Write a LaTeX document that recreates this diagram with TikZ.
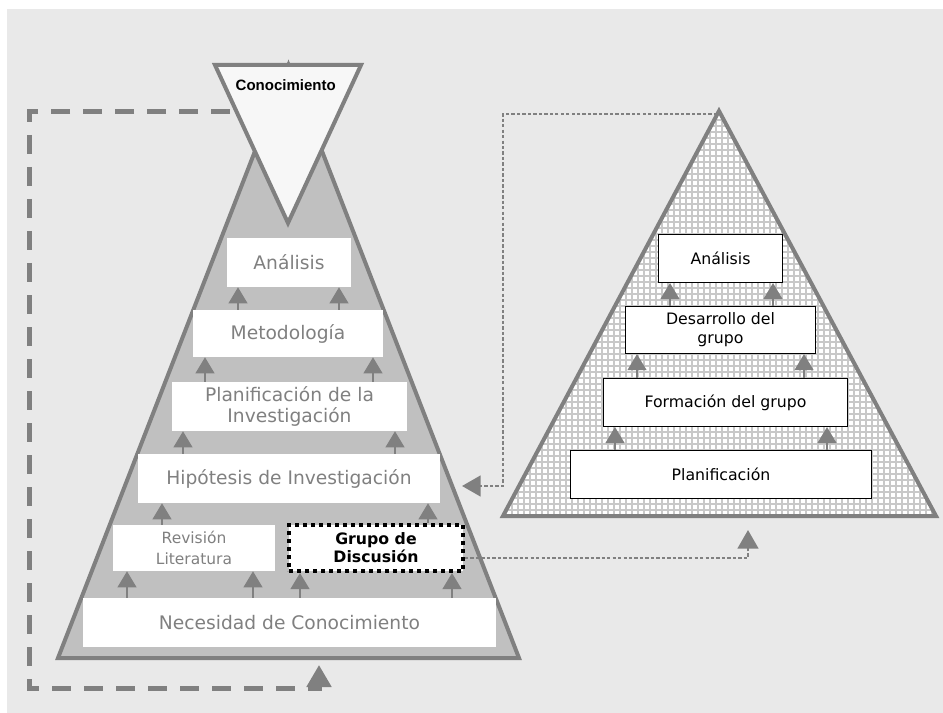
\documentclass[tikz,border=0pt]{standalone}
\usepackage{fontspec}
\setmainfont{DejaVu Sans}
\newfontfamily\arialfont{Liberation Sans}
\usetikzlibrary{arrows.meta}
\definecolor{bgc}{RGB}{233,233,233}
\definecolor{edgec}{RGB}{128,128,128}
\definecolor{pyrc}{RGB}{192,192,192}
\definecolor{tipc}{RGB}{247,247,247}
\definecolor{gridc}{RGB}{200,200,200}
\definecolor{txtc}{RGB}{128,128,128}
\tikzset{
  lbox/.style={fill=white, inner sep=0pt, align=center, text=txtc,
    font=\fontsize{14}{15.5}\selectfont},
  lsmall/.style={lbox, font=\fontsize{11.6}{15.5}\selectfont},
  rbox/.style={fill=white, draw=black, line width=1.1pt, inner sep=0pt,
    align=center, font=\fontsize{11.8}{14.25}\selectfont},
  gdbox/.style={fill=white, draw=black, line width=3pt, dash pattern=on 3pt off 3pt,
    inner sep=0pt, align=center, font=\bfseries\fontsize{11.8}{13.5}\selectfont},
  upar/.style={draw=edgec, line width=1.5pt,
    -{Triangle[width=14pt,length=12pt]}, color=edgec},
  dotar/.style={draw=edgec, line width=2pt, dash pattern=on 2.5pt off 1.6pt,
    -{Triangle[width=15.5pt,length=14pt]}},
  loopar/.style={draw=edgec, line width=3.75pt, dash pattern=on 14.25pt off 9.75pt,
    -{Triangle[width=18pt,length=16.5pt]}},
  pyredge/.style={draw=edgec, line width=3pt, line join=miter},
}
\begin{document}
\begin{tikzpicture}[x=0.75pt, y=-0.75pt]
\useasboundingbox (0,0) rectangle (943,713);
\fill[white] (0,0) rectangle (943,713);
\fill[bgc] (7,9) rectangle (943,713);

% left pyramid
\filldraw[pyredge, fill=pyrc] (58,658) -- (288.5,65) -- (519,658) -- cycle;

% right pyramid with grid fill
\begin{scope}
  \clip (503,516) -- (719,111) -- (936,516) -- cycle;
  \fill[white] (495,100) rectangle (945,520);
  \foreach \gx in {500,506,...,940} \draw[gridc, line width=1.15pt] (\gx,100) -- (\gx,520);
  \foreach \gy in {108,114,...,520} \draw[gridc, line width=1.15pt] (495,\gy) -- (945,\gy);
\end{scope}
\draw[pyredge] (503,516) -- (719,111) -- (936,516) -- cycle;

% inverted triangle at the top
\filldraw[pyredge, fill=tipc] (215,65) -- (361,65) -- (288,223) -- cycle;
\node[font=\arialfont\bfseries\fontsize{11.25}{13}\selectfont, anchor=west] (con) at (231,85) {Conocimiento};

% left pyramid boxes
\node[lbox, minimum width=93pt, minimum height=36.75pt] (ana) at (289,262.5) {Análisis};
\node[lbox, minimum width=142.5pt, minimum height=35.25pt] (meto) at (288,333.5) {Metodología};
\node[lbox, minimum width=176.25pt, minimum height=36.75pt] (plan) at (289.5,406.5) {Planificación de la\\Investigación};
\node[lbox, minimum width=226.5pt, minimum height=36.75pt] (hip) at (289,478.5) {Hipótesis de Investigación};
\node[lsmall, minimum width=121.5pt, minimum height=34.5pt] (rev) at (194,548) {Revisión\\Literatura};
\node[gdbox, minimum width=130.5pt, minimum height=34.5pt] (gd) at (376,548) {Grupo de\\Discusión};
\node[lbox, minimum width=309.75pt, minimum height=36.75pt] (nec) at (289.5,622.5) {Necesidad de Conocimiento};

% right pyramid boxes
\node[rbox, minimum width=92.7pt, minimum height=35.7pt] (rana) at (720.5,258.5) {Análisis};
\node[rbox, minimum width=142.2pt, minimum height=35pt] (rdes) at (720.5,330) {Desarrollo del\\grupo};
\node[rbox, minimum width=182.7pt, minimum height=35.7pt] (rfor) at (725.5,402.5) {Formación del grupo};
\node[rbox, minimum width=225.5pt, minimum height=35.7pt] (rpla) at (721,474.5) {Planificación};

% upward arrows, left pyramid
\draw[upar] (meto.north -| 238,0) -- (ana.south -| 238,0);
\draw[upar] (meto.north -| 339,0) -- (ana.south -| 339,0);
\draw[upar] (plan.north -| 205,0) -- (meto.south -| 205,0);
\draw[upar] (plan.north -| 373,0) -- (meto.south -| 373,0);
\draw[upar] (hip.north -| 183,0) -- (plan.south -| 183,0);
\draw[upar] (hip.north -| 395,0) -- (plan.south -| 395,0);
\draw[upar] (rev.north -| 162,0) -- (hip.south -| 162,0);
\draw[upar] (gd.north -| 428,0) -- (hip.south -| 428,0);
\draw[upar] (nec.north -| 127,0) -- (rev.south -| 127,0);
\draw[upar] (nec.north -| 253,0) -- (rev.south -| 253,0);
\draw[upar] (nec.north -| 300,0) -- (gd.south -| 300,0);
\draw[upar] (nec.north -| 452,0) -- (gd.south -| 452,0);

% upward arrows, right pyramid
\draw[upar] (rdes.north -| 670,0) -- (rana.south -| 670,0);
\draw[upar] (rdes.north -| 773,0) -- (rana.south -| 773,0);
\draw[upar] (rfor.north -| 637,0) -- (rdes.south -| 637,0);
\draw[upar] (rfor.north -| 804,0) -- (rdes.south -| 804,0);
\draw[upar] (rpla.north -| 615,0) -- (rfor.south -| 615,0);
\draw[upar] (rpla.north -| 827,0) -- (rfor.south -| 827,0);

% feedback loop from knowledge back to the base
\coordinate (kstart) at (230,112);
\coordinate (kend) at (319,665);
\draw[loopar] (kstart) -| (29,688) -| (kend);

% dotted links between the two pyramids
\coordinate (rtop) at (717,114);
\coordinate (hipin) at (462,486);
\draw[dotar] (rtop) -- (503,114) -- (503,486) -- (hipin);
\coordinate (rbase) at (748,530);
\draw[dotar] (gd.east |- 0,558) -| (rbase);
\end{tikzpicture}
\end{document}
